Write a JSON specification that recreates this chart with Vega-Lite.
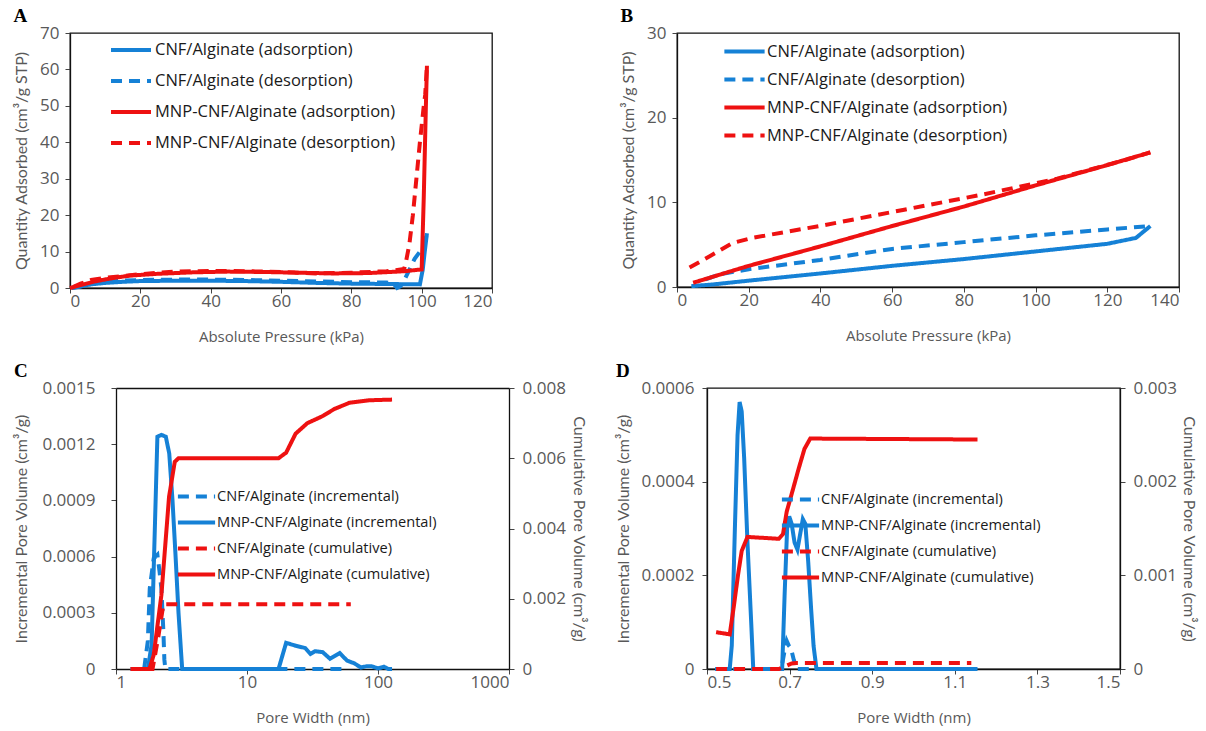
{
  "$schema": "https://vega.github.io/schema/vega-lite/v6.json",
  "background": "white",
  "padding": {"left": 12, "top": 6, "right": 5, "bottom": 0},
  "config": {
    "font": "Open Sans",
    "view": {"stroke": "#111", "strokeWidth": 1.3},
    "axis": {"grid": false, "domainColor": "#111", "domainWidth": 1.3, "ticks": true, "tickSize": 5, "tickColor": "#444", "tickWidth": 1, "labelColor": "#595959", "titleColor": "#595959", "labelFontSize": 17, "titleFontSize": 15, "titleFontWeight": "normal", "labelFont": "Open Sans", "titleFont": "Open Sans", "labelPadding": 0, "titlePadding": 20, "minExtent": 0},
    "axisY": {"titleFont": "Lato", "titleFontSize": 16, "labelPadding": 6, "titlePadding": 10},
    "title": {"font": "Liberation Serif", "fontWeight": "bold", "fontSize": 19, "anchor": "start", "frame": "bounds", "color": "#000", "offset": -2},
    "legend": {"orient": "none", "title": null, "symbolType": "stroke", "symbolStrokeWidth": 4, "labelFont": "Open Sans", "labelColor": "#1a1a1a", "padding": 0, "labelOffset": 2, "labelLimit": 0, "rowPadding": 0},
    "line": {"strokeWidth": 4, "strokeCap": "butt"}
  },
  "datasets": {
    "A": [
      {"x": 0.5, "y": 0, "s": "CNF/Alginate (adsorption)"},
      {"x": 3, "y": 0.4, "s": "CNF/Alginate (adsorption)"},
      {"x": 6, "y": 1.0, "s": "CNF/Alginate (adsorption)"},
      {"x": 10, "y": 1.4, "s": "CNF/Alginate (adsorption)"},
      {"x": 15, "y": 1.7, "s": "CNF/Alginate (adsorption)"},
      {"x": 20, "y": 1.9, "s": "CNF/Alginate (adsorption)"},
      {"x": 30, "y": 2.0, "s": "CNF/Alginate (adsorption)"},
      {"x": 40, "y": 2.0, "s": "CNF/Alginate (adsorption)"},
      {"x": 50, "y": 1.9, "s": "CNF/Alginate (adsorption)"},
      {"x": 60, "y": 1.7, "s": "CNF/Alginate (adsorption)"},
      {"x": 70, "y": 1.4, "s": "CNF/Alginate (adsorption)"},
      {"x": 80, "y": 1.2, "s": "CNF/Alginate (adsorption)"},
      {"x": 90, "y": 1.1, "s": "CNF/Alginate (adsorption)"},
      {"x": 99.5, "y": 1.0, "s": "CNF/Alginate (adsorption)"},
      {"x": 100.3, "y": 5, "s": "CNF/Alginate (adsorption)"},
      {"x": 101, "y": 11, "s": "CNF/Alginate (adsorption)"},
      {"x": 101.5, "y": 15, "s": "CNF/Alginate (adsorption)"},
      {"x": 101.5, "y": 15, "s": "CNF/Alginate (desorption)"},
      {"x": 100.8, "y": 12, "s": "CNF/Alginate (desorption)"},
      {"x": 99.5, "y": 10, "s": "CNF/Alginate (desorption)"},
      {"x": 98, "y": 8, "s": "CNF/Alginate (desorption)"},
      {"x": 97, "y": 6, "s": "CNF/Alginate (desorption)"},
      {"x": 96, "y": 4, "s": "CNF/Alginate (desorption)"},
      {"x": 95, "y": 2, "s": "CNF/Alginate (desorption)"},
      {"x": 94, "y": 0.5, "s": "CNF/Alginate (desorption)"},
      {"x": 93, "y": 0, "s": "CNF/Alginate (desorption)"},
      {"x": 92, "y": 1.2, "s": "CNF/Alginate (desorption)"},
      {"x": 90, "y": 1.5, "s": "CNF/Alginate (desorption)"},
      {"x": 80, "y": 1.6, "s": "CNF/Alginate (desorption)"},
      {"x": 70, "y": 1.8, "s": "CNF/Alginate (desorption)"},
      {"x": 60, "y": 2.0, "s": "CNF/Alginate (desorption)"},
      {"x": 50, "y": 2.2, "s": "CNF/Alginate (desorption)"},
      {"x": 40, "y": 2.3, "s": "CNF/Alginate (desorption)"},
      {"x": 30, "y": 2.3, "s": "CNF/Alginate (desorption)"},
      {"x": 20, "y": 2.2, "s": "CNF/Alginate (desorption)"},
      {"x": 10, "y": 1.8, "s": "CNF/Alginate (desorption)"},
      {"x": 6, "y": 1.2, "s": "CNF/Alginate (desorption)"},
      {"x": 3, "y": 0.5, "s": "CNF/Alginate (desorption)"},
      {"x": 0.5, "y": 0, "s": "CNF/Alginate (desorption)"},
      {"x": 0, "y": 0, "s": "MNP-CNF/Alginate (adsorption)"},
      {"x": 3, "y": 0.8, "s": "MNP-CNF/Alginate (adsorption)"},
      {"x": 7, "y": 1.8, "s": "MNP-CNF/Alginate (adsorption)"},
      {"x": 12, "y": 2.7, "s": "MNP-CNF/Alginate (adsorption)"},
      {"x": 17, "y": 3.4, "s": "MNP-CNF/Alginate (adsorption)"},
      {"x": 25, "y": 3.9, "s": "MNP-CNF/Alginate (adsorption)"},
      {"x": 35, "y": 4.3, "s": "MNP-CNF/Alginate (adsorption)"},
      {"x": 45, "y": 4.5, "s": "MNP-CNF/Alginate (adsorption)"},
      {"x": 55, "y": 4.4, "s": "MNP-CNF/Alginate (adsorption)"},
      {"x": 65, "y": 4.2, "s": "MNP-CNF/Alginate (adsorption)"},
      {"x": 75, "y": 4.0, "s": "MNP-CNF/Alginate (adsorption)"},
      {"x": 85, "y": 4.1, "s": "MNP-CNF/Alginate (adsorption)"},
      {"x": 95, "y": 4.6, "s": "MNP-CNF/Alginate (adsorption)"},
      {"x": 100, "y": 5.1, "s": "MNP-CNF/Alginate (adsorption)"},
      {"x": 100.6, "y": 25, "s": "MNP-CNF/Alginate (adsorption)"},
      {"x": 101.2, "y": 50, "s": "MNP-CNF/Alginate (adsorption)"},
      {"x": 101.5, "y": 61, "s": "MNP-CNF/Alginate (adsorption)"},
      {"x": 101.5, "y": 61, "s": "MNP-CNF/Alginate (desorption)"},
      {"x": 101, "y": 53, "s": "MNP-CNF/Alginate (desorption)"},
      {"x": 100.6, "y": 50, "s": "MNP-CNF/Alginate (desorption)"},
      {"x": 99.5, "y": 40, "s": "MNP-CNF/Alginate (desorption)"},
      {"x": 98.5, "y": 30, "s": "MNP-CNF/Alginate (desorption)"},
      {"x": 97.5, "y": 20, "s": "MNP-CNF/Alginate (desorption)"},
      {"x": 96.5, "y": 12, "s": "MNP-CNF/Alginate (desorption)"},
      {"x": 95.5, "y": 7, "s": "MNP-CNF/Alginate (desorption)"},
      {"x": 95, "y": 5.2, "s": "MNP-CNF/Alginate (desorption)"},
      {"x": 90, "y": 4.6, "s": "MNP-CNF/Alginate (desorption)"},
      {"x": 80, "y": 4.2, "s": "MNP-CNF/Alginate (desorption)"},
      {"x": 70, "y": 4.0, "s": "MNP-CNF/Alginate (desorption)"},
      {"x": 60, "y": 4.4, "s": "MNP-CNF/Alginate (desorption)"},
      {"x": 50, "y": 4.6, "s": "MNP-CNF/Alginate (desorption)"},
      {"x": 40, "y": 4.7, "s": "MNP-CNF/Alginate (desorption)"},
      {"x": 30, "y": 4.5, "s": "MNP-CNF/Alginate (desorption)"},
      {"x": 20, "y": 3.8, "s": "MNP-CNF/Alginate (desorption)"},
      {"x": 15, "y": 3.3, "s": "MNP-CNF/Alginate (desorption)"},
      {"x": 10, "y": 2.8, "s": "MNP-CNF/Alginate (desorption)"},
      {"x": 6, "y": 2.2, "s": "MNP-CNF/Alginate (desorption)"},
      {"x": 5, "y": 1.8, "s": "MNP-CNF/Alginate (desorption)"},
      {"x": 3, "y": 1.2, "s": "MNP-CNF/Alginate (desorption)"},
      {"x": 1, "y": 0.3, "s": "MNP-CNF/Alginate (desorption)"}
    ],
    "B": [
      {"x": 4, "y": 0.1, "s": "CNF/Alginate (adsorption)"},
      {"x": 10, "y": 0.3, "s": "CNF/Alginate (adsorption)"},
      {"x": 20, "y": 0.75, "s": "CNF/Alginate (adsorption)"},
      {"x": 40, "y": 1.6, "s": "CNF/Alginate (adsorption)"},
      {"x": 60, "y": 2.5, "s": "CNF/Alginate (adsorption)"},
      {"x": 80, "y": 3.3, "s": "CNF/Alginate (adsorption)"},
      {"x": 100, "y": 4.2, "s": "CNF/Alginate (adsorption)"},
      {"x": 120, "y": 5.1, "s": "CNF/Alginate (adsorption)"},
      {"x": 128, "y": 5.8, "s": "CNF/Alginate (adsorption)"},
      {"x": 132, "y": 7.2, "s": "CNF/Alginate (adsorption)"},
      {"x": 132, "y": 7.2, "s": "CNF/Alginate (desorption)"},
      {"x": 120, "y": 6.8, "s": "CNF/Alginate (desorption)"},
      {"x": 100, "y": 6.1, "s": "CNF/Alginate (desorption)"},
      {"x": 80, "y": 5.3, "s": "CNF/Alginate (desorption)"},
      {"x": 60, "y": 4.5, "s": "CNF/Alginate (desorption)"},
      {"x": 40, "y": 3.2, "s": "CNF/Alginate (desorption)"},
      {"x": 20, "y": 2.1, "s": "CNF/Alginate (desorption)"},
      {"x": 12, "y": 1.5, "s": "CNF/Alginate (desorption)"},
      {"x": 8, "y": 0.9, "s": "CNF/Alginate (desorption)"},
      {"x": 4.5, "y": 0.5, "s": "MNP-CNF/Alginate (adsorption)"},
      {"x": 20, "y": 2.5, "s": "MNP-CNF/Alginate (adsorption)"},
      {"x": 40, "y": 4.8, "s": "MNP-CNF/Alginate (adsorption)"},
      {"x": 60, "y": 7.2, "s": "MNP-CNF/Alginate (adsorption)"},
      {"x": 80, "y": 9.5, "s": "MNP-CNF/Alginate (adsorption)"},
      {"x": 100, "y": 12.0, "s": "MNP-CNF/Alginate (adsorption)"},
      {"x": 120, "y": 14.4, "s": "MNP-CNF/Alginate (adsorption)"},
      {"x": 132, "y": 15.9, "s": "MNP-CNF/Alginate (adsorption)"},
      {"x": 132, "y": 15.9, "s": "MNP-CNF/Alginate (desorption)"},
      {"x": 125, "y": 15.0, "s": "MNP-CNF/Alginate (desorption)"},
      {"x": 106, "y": 12.8, "s": "MNP-CNF/Alginate (desorption)"},
      {"x": 85, "y": 10.9, "s": "MNP-CNF/Alginate (desorption)"},
      {"x": 63, "y": 9.1, "s": "MNP-CNF/Alginate (desorption)"},
      {"x": 41, "y": 7.3, "s": "MNP-CNF/Alginate (desorption)"},
      {"x": 21, "y": 5.8, "s": "MNP-CNF/Alginate (desorption)"},
      {"x": 15.5, "y": 5.2, "s": "MNP-CNF/Alginate (desorption)"},
      {"x": 9, "y": 3.6, "s": "MNP-CNF/Alginate (desorption)"},
      {"x": 3.5, "y": 2.3, "s": "MNP-CNF/Alginate (desorption)"}
    ],
    "Cinc": [
      {"x": 1.64, "y": 0, "s": "CNF/Alginate (incremental)"},
      {"x": 1.75, "y": 0.00015, "s": "CNF/Alginate (incremental)"},
      {"x": 1.81, "y": 0.00043, "s": "CNF/Alginate (incremental)"},
      {"x": 1.94, "y": 0.00059, "s": "CNF/Alginate (incremental)"},
      {"x": 2.07, "y": 0.00061, "s": "CNF/Alginate (incremental)"},
      {"x": 2.15, "y": 0.00052, "s": "CNF/Alginate (incremental)"},
      {"x": 2.22, "y": 0.00043, "s": "CNF/Alginate (incremental)"},
      {"x": 2.3, "y": 0.0002, "s": "CNF/Alginate (incremental)"},
      {"x": 2.34, "y": 0.00005, "s": "CNF/Alginate (incremental)"},
      {"x": 2.38, "y": 0, "s": "CNF/Alginate (incremental)"},
      {"x": 5, "y": 0, "s": "CNF/Alginate (incremental)"},
      {"x": 20, "y": 0, "s": "CNF/Alginate (incremental)"},
      {"x": 53, "y": 0, "s": "CNF/Alginate (incremental)"},
      {"x": 1.29, "y": 0, "s": "MNP-CNF/Alginate (incremental)"},
      {"x": 1.75, "y": 0, "s": "MNP-CNF/Alginate (incremental)"},
      {"x": 1.87, "y": 0.00013, "s": "MNP-CNF/Alginate (incremental)"},
      {"x": 1.97, "y": 0.0007, "s": "MNP-CNF/Alginate (incremental)"},
      {"x": 2.07, "y": 0.00124, "s": "MNP-CNF/Alginate (incremental)"},
      {"x": 2.22, "y": 0.00125, "s": "MNP-CNF/Alginate (incremental)"},
      {"x": 2.4, "y": 0.00124, "s": "MNP-CNF/Alginate (incremental)"},
      {"x": 2.55, "y": 0.00115, "s": "MNP-CNF/Alginate (incremental)"},
      {"x": 2.7, "y": 0.0009, "s": "MNP-CNF/Alginate (incremental)"},
      {"x": 2.85, "y": 0.0006, "s": "MNP-CNF/Alginate (incremental)"},
      {"x": 3.0, "y": 0.0003, "s": "MNP-CNF/Alginate (incremental)"},
      {"x": 3.2, "y": 0, "s": "MNP-CNF/Alginate (incremental)"},
      {"x": 17.4, "y": 0, "s": "MNP-CNF/Alginate (incremental)"},
      {"x": 19.9, "y": 0.00014, "s": "MNP-CNF/Alginate (incremental)"},
      {"x": 23.5, "y": 0.000124, "s": "MNP-CNF/Alginate (incremental)"},
      {"x": 27.8, "y": 0.000112, "s": "MNP-CNF/Alginate (incremental)"},
      {"x": 30.5, "y": 0.00008, "s": "MNP-CNF/Alginate (incremental)"},
      {"x": 33, "y": 0.000095, "s": "MNP-CNF/Alginate (incremental)"},
      {"x": 37.8, "y": 0.00009, "s": "MNP-CNF/Alginate (incremental)"},
      {"x": 43, "y": 0.000055, "s": "MNP-CNF/Alginate (incremental)"},
      {"x": 51, "y": 0.000085, "s": "MNP-CNF/Alginate (incremental)"},
      {"x": 58, "y": 0.000045, "s": "MNP-CNF/Alginate (incremental)"},
      {"x": 66, "y": 0.00003, "s": "MNP-CNF/Alginate (incremental)"},
      {"x": 74, "y": 0.000008, "s": "MNP-CNF/Alginate (incremental)"},
      {"x": 82, "y": 0.000015, "s": "MNP-CNF/Alginate (incremental)"},
      {"x": 90, "y": 0.000014, "s": "MNP-CNF/Alginate (incremental)"},
      {"x": 100, "y": 0.000003, "s": "MNP-CNF/Alginate (incremental)"},
      {"x": 111, "y": 0.000012, "s": "MNP-CNF/Alginate (incremental)"},
      {"x": 120, "y": 0, "s": "MNP-CNF/Alginate (incremental)"},
      {"x": 128, "y": 0, "s": "MNP-CNF/Alginate (incremental)"}
    ],
    "Ccum": [
      {"x": 1.3, "y": 0, "s": "CNF/Alginate (cumulative)"},
      {"x": 1.9, "y": 0, "s": "CNF/Alginate (cumulative)"},
      {"x": 2.1, "y": 0.0009, "s": "CNF/Alginate (cumulative)"},
      {"x": 2.3, "y": 0.00184, "s": "CNF/Alginate (cumulative)"},
      {"x": 62, "y": 0.00184, "s": "CNF/Alginate (cumulative)"},
      {"x": 1.29, "y": 0, "s": "MNP-CNF/Alginate (cumulative)"},
      {"x": 1.8, "y": 0, "s": "MNP-CNF/Alginate (cumulative)"},
      {"x": 1.94, "y": 0.0004, "s": "MNP-CNF/Alginate (cumulative)"},
      {"x": 2.22, "y": 0.0021, "s": "MNP-CNF/Alginate (cumulative)"},
      {"x": 2.54, "y": 0.0049, "s": "MNP-CNF/Alginate (cumulative)"},
      {"x": 2.81, "y": 0.0059, "s": "MNP-CNF/Alginate (cumulative)"},
      {"x": 3.0, "y": 0.006, "s": "MNP-CNF/Alginate (cumulative)"},
      {"x": 17.4, "y": 0.006, "s": "MNP-CNF/Alginate (cumulative)"},
      {"x": 19.9, "y": 0.00616, "s": "MNP-CNF/Alginate (cumulative)"},
      {"x": 23.5, "y": 0.0067, "s": "MNP-CNF/Alginate (cumulative)"},
      {"x": 28.9, "y": 0.007, "s": "MNP-CNF/Alginate (cumulative)"},
      {"x": 37.8, "y": 0.0072, "s": "MNP-CNF/Alginate (cumulative)"},
      {"x": 46.3, "y": 0.0074, "s": "MNP-CNF/Alginate (cumulative)"},
      {"x": 60.6, "y": 0.00758, "s": "MNP-CNF/Alginate (cumulative)"},
      {"x": 85, "y": 0.00765, "s": "MNP-CNF/Alginate (cumulative)"},
      {"x": 128, "y": 0.00767, "s": "MNP-CNF/Alginate (cumulative)"}
    ],
    "Dinc": [
      {"x": 0.52, "y": 0, "s": "CNF/Alginate (incremental)"},
      {"x": 0.68, "y": 0, "s": "CNF/Alginate (incremental)"},
      {"x": 0.688, "y": 0.00004, "s": "CNF/Alginate (incremental)"},
      {"x": 0.693, "y": 0.00006, "s": "CNF/Alginate (incremental)"},
      {"x": 0.698, "y": 0.00005, "s": "CNF/Alginate (incremental)"},
      {"x": 0.703, "y": 0.000045, "s": "CNF/Alginate (incremental)"},
      {"x": 0.71, "y": 0.00002, "s": "CNF/Alginate (incremental)"},
      {"x": 0.717, "y": 0, "s": "CNF/Alginate (incremental)"},
      {"x": 1.155, "y": 0, "s": "CNF/Alginate (incremental)"},
      {"x": 0.52, "y": 0, "s": "MNP-CNF/Alginate (incremental)"},
      {"x": 0.555, "y": 0, "s": "MNP-CNF/Alginate (incremental)"},
      {"x": 0.56, "y": 0.00005, "s": "MNP-CNF/Alginate (incremental)"},
      {"x": 0.5675, "y": 0.0003, "s": "MNP-CNF/Alginate (incremental)"},
      {"x": 0.574, "y": 0.0005, "s": "MNP-CNF/Alginate (incremental)"},
      {"x": 0.579, "y": 0.00057, "s": "MNP-CNF/Alginate (incremental)"},
      {"x": 0.584, "y": 0.00055, "s": "MNP-CNF/Alginate (incremental)"},
      {"x": 0.59, "y": 0.00045, "s": "MNP-CNF/Alginate (incremental)"},
      {"x": 0.598, "y": 0.00027, "s": "MNP-CNF/Alginate (incremental)"},
      {"x": 0.6075, "y": 0.00009, "s": "MNP-CNF/Alginate (incremental)"},
      {"x": 0.612, "y": 0, "s": "MNP-CNF/Alginate (incremental)"},
      {"x": 0.682, "y": 0, "s": "MNP-CNF/Alginate (incremental)"},
      {"x": 0.688, "y": 0.00016, "s": "MNP-CNF/Alginate (incremental)"},
      {"x": 0.694, "y": 0.0003, "s": "MNP-CNF/Alginate (incremental)"},
      {"x": 0.699, "y": 0.000326, "s": "MNP-CNF/Alginate (incremental)"},
      {"x": 0.705, "y": 0.00031, "s": "MNP-CNF/Alginate (incremental)"},
      {"x": 0.712, "y": 0.00027, "s": "MNP-CNF/Alginate (incremental)"},
      {"x": 0.719, "y": 0.000255, "s": "MNP-CNF/Alginate (incremental)"},
      {"x": 0.726, "y": 0.00029, "s": "MNP-CNF/Alginate (incremental)"},
      {"x": 0.732, "y": 0.00032, "s": "MNP-CNF/Alginate (incremental)"},
      {"x": 0.738, "y": 0.00031, "s": "MNP-CNF/Alginate (incremental)"},
      {"x": 0.745, "y": 0.00023, "s": "MNP-CNF/Alginate (incremental)"},
      {"x": 0.752, "y": 0.00013, "s": "MNP-CNF/Alginate (incremental)"},
      {"x": 0.758, "y": 0.00005, "s": "MNP-CNF/Alginate (incremental)"},
      {"x": 0.765, "y": 0, "s": "MNP-CNF/Alginate (incremental)"},
      {"x": 1.155, "y": 0, "s": "MNP-CNF/Alginate (incremental)"}
    ],
    "Dcum": [
      {"x": 0.522, "y": 0, "s": "CNF/Alginate (cumulative)"},
      {"x": 0.674, "y": 0, "s": "CNF/Alginate (cumulative)"},
      {"x": 0.69, "y": 0.00003, "s": "CNF/Alginate (cumulative)"},
      {"x": 0.705, "y": 0.00006, "s": "CNF/Alginate (cumulative)"},
      {"x": 0.717, "y": 0.000063, "s": "CNF/Alginate (cumulative)"},
      {"x": 1.14, "y": 0.000063, "s": "CNF/Alginate (cumulative)"},
      {"x": 0.522, "y": 0.000393, "s": "MNP-CNF/Alginate (cumulative)"},
      {"x": 0.555, "y": 0.00037, "s": "MNP-CNF/Alginate (cumulative)"},
      {"x": 0.565, "y": 0.00067, "s": "MNP-CNF/Alginate (cumulative)"},
      {"x": 0.575, "y": 0.001, "s": "MNP-CNF/Alginate (cumulative)"},
      {"x": 0.584, "y": 0.00126, "s": "MNP-CNF/Alginate (cumulative)"},
      {"x": 0.598, "y": 0.00141, "s": "MNP-CNF/Alginate (cumulative)"},
      {"x": 0.674, "y": 0.00139, "s": "MNP-CNF/Alginate (cumulative)"},
      {"x": 0.684, "y": 0.00144, "s": "MNP-CNF/Alginate (cumulative)"},
      {"x": 0.693, "y": 0.00168, "s": "MNP-CNF/Alginate (cumulative)"},
      {"x": 0.707, "y": 0.0019, "s": "MNP-CNF/Alginate (cumulative)"},
      {"x": 0.722, "y": 0.00214, "s": "MNP-CNF/Alginate (cumulative)"},
      {"x": 0.736, "y": 0.00235, "s": "MNP-CNF/Alginate (cumulative)"},
      {"x": 0.75, "y": 0.00246, "s": "MNP-CNF/Alginate (cumulative)"},
      {"x": 0.76, "y": 0.00246, "s": "MNP-CNF/Alginate (cumulative)"},
      {"x": 1.155, "y": 0.00245, "s": "MNP-CNF/Alginate (cumulative)"}
    ]
  },
  "columns": 1,
  "align": "none",
  "spacing": 16,
  "resolve": {"scale": {"color": "independent", "strokeDash": "independent"}, "legend": {"color": "independent", "strokeDash": "independent"}},
  "concat": [
    {
      "spacing": 125,
      "resolve": {"scale": {"color": "independent", "strokeDash": "independent"}, "legend": {"color": "independent", "strokeDash": "independent"}},
      "hconcat": [
        {
          "title": {"text": "A"},
          "width": 422, "height": 255,
          "data": {"name": "A"},
          "mark": {"type": "line"},
          "encoding": {
            "x": {"field": "x", "type": "quantitative", "scale": {"domain": [0, 120], "nice": false}, "axis": {"values": [0, 20, 40, 60, 80, 100, 120], "title": "Absolute Pressure (kPa)"}},
            "y": {"field": "y", "type": "quantitative", "scale": {"domain": [0, 70], "nice": false}, "axis": {"values": [0, 10, 20, 30, 40, 50, 60, 70], "title": "Quantity Adsorbed (cm³/g STP)"}},
            "color": {"field": "s", "type": "nominal", "scale": {"domain": ["CNF/Alginate (adsorption)", "CNF/Alginate (desorption)", "MNP-CNF/Alginate (adsorption)", "MNP-CNF/Alginate (desorption)"], "range": ["#1581d6", "#1581d6", "#ee1111", "#ee1111"]}, "legend": {"legendX": 39, "legendY": -5, "symbolSize": 1600, "labelFontSize": 16.5}},
            "strokeDash": {"field": "s", "type": "nominal", "scale": {"domain": ["CNF/Alginate (adsorption)", "CNF/Alginate (desorption)", "MNP-CNF/Alginate (adsorption)", "MNP-CNF/Alginate (desorption)"], "range": [[1, 0], [11, 7], [1, 0], [11, 7]]}, "legend": {"legendX": 39, "legendY": -5, "symbolSize": 1600, "labelFontSize": 16.5}}
          }
        },
        {
          "title": {"text": "B"},
          "width": 502, "height": 254,
          "data": {"name": "B"},
          "mark": {"type": "line"},
          "encoding": {
            "x": {"field": "x", "type": "quantitative", "scale": {"domain": [0, 140], "nice": false}, "axis": {"values": [0, 20, 40, 60, 80, 100, 120, 140], "title": "Absolute Pressure (kPa)"}},
            "y": {"field": "y", "type": "quantitative", "scale": {"domain": [0, 30], "nice": false}, "axis": {"values": [0, 10, 20, 30], "title": "Quantity Adsorbed (cm³/g STP)"}},
            "color": {"field": "s", "type": "nominal", "scale": {"domain": ["CNF/Alginate (adsorption)", "CNF/Alginate (desorption)", "MNP-CNF/Alginate (adsorption)", "MNP-CNF/Alginate (desorption)"], "range": ["#1581d6", "#1581d6", "#ee1111", "#ee1111"]}, "legend": {"legendX": 48, "legendY": -1, "symbolType": "M-1.15,0H1.15", "symbolSize": 1225, "labelOffset": 3, "labelFontSize": 16.5}},
            "strokeDash": {"field": "s", "type": "nominal", "scale": {"domain": ["CNF/Alginate (adsorption)", "CNF/Alginate (desorption)", "MNP-CNF/Alginate (adsorption)", "MNP-CNF/Alginate (desorption)"], "range": [[1, 0], [11, 7], [1, 0], [11, 7]]}, "legend": {"legendX": 48, "legendY": -1, "symbolType": "M-1.15,0H1.15", "symbolSize": 1225, "labelOffset": 3, "labelFontSize": 16.5}}
          }
        }
      ]
    },
    {
      "spacing": 28,
      "resolve": {"scale": {"color": "independent", "strokeDash": "independent"}, "legend": {"color": "independent", "strokeDash": "independent"}},
      "hconcat": [
        {
          "title": {"text": "C"},
          "width": 439, "height": 281,
          "view": {"stroke": null},
          "resolve": {"scale": {"y": "independent"}, "axis": {"x": "independent"}},
          "layer": [
            {
              "data": {"name": "Cinc"},
              "mark": {"type": "line"},
              "encoding": {
                "x": {"field": "x", "type": "quantitative", "scale": {"type": "log", "domain": [1, 1000], "range": [46, 439], "nice": false}, "axis": {"orient": "bottom", "values": [1, 10, 100, 1000], "format": "d", "title": "Pore Width (nm)"}},
                "y": {"field": "y", "type": "quantitative", "scale": {"domain": [0, 0.0015], "nice": false}, "axis": {"offset": -46, "values": [0, 0.0003, 0.0006, 0.0009, 0.0012, 0.0015], "format": ".4~f", "title": "Incremental Pore Volume (cm³/g)", "labelPadding": 16, "titlePadding": 12}},
                "color": {"field": "s", "type": "nominal", "scale": {"domain": ["CNF/Alginate (incremental)", "MNP-CNF/Alginate (incremental)", "CNF/Alginate (cumulative)", "MNP-CNF/Alginate (cumulative)"], "range": ["#1581d6", "#1581d6", "#ee1111", "#ee1111"]}, "legend": {"legendX": 109, "legendY": 91, "symbolType": "M-1.2,0H1.2", "symbolSize": 961, "labelOffset": 3, "labelFontSize": 14.6}},
                "strokeDash": {"field": "s", "type": "nominal", "scale": {"domain": ["CNF/Alginate (incremental)", "MNP-CNF/Alginate (incremental)", "CNF/Alginate (cumulative)", "MNP-CNF/Alginate (cumulative)"], "range": [[11, 7], [1, 0], [11, 7], [1, 0]]}, "legend": {"legendX": 109, "legendY": 91, "symbolType": "M-1.2,0H1.2", "symbolSize": 961, "labelOffset": 3, "labelFontSize": 14.6}}
              }
            },
            {
              "data": {"name": "Ccum"},
              "mark": {"type": "line"},
              "encoding": {
                "x": {"field": "x", "type": "quantitative", "scale": {"type": "log", "domain": [1, 1000], "range": [46, 439], "nice": false}, "axis": {"orient": "top", "labels": false, "ticks": false, "title": null, "domain": true}},
                "y": {"field": "y", "type": "quantitative", "scale": {"domain": [0, 0.008], "nice": false}, "axis": {"orient": "right", "values": [0, 0.002, 0.004, 0.006, 0.008], "format": ".3~f", "title": "Cumulative Pore Volume (cm³/g)", "labelPadding": 8, "titlePadding": 5}},
                "color": {"field": "s", "type": "nominal", "scale": {"domain": ["CNF/Alginate (incremental)", "MNP-CNF/Alginate (incremental)", "CNF/Alginate (cumulative)", "MNP-CNF/Alginate (cumulative)"], "range": ["#1581d6", "#1581d6", "#ee1111", "#ee1111"]}, "legend": {"legendX": 109, "legendY": 91, "symbolType": "M-1.2,0H1.2", "symbolSize": 961, "labelOffset": 3, "labelFontSize": 14.6}},
                "strokeDash": {"field": "s", "type": "nominal", "scale": {"domain": ["CNF/Alginate (incremental)", "MNP-CNF/Alginate (incremental)", "CNF/Alginate (cumulative)", "MNP-CNF/Alginate (cumulative)"], "range": [[11, 7], [1, 0], [11, 7], [1, 0]]}, "legend": {"legendX": 109, "legendY": 91, "symbolType": "M-1.2,0H1.2", "symbolSize": 961, "labelOffset": 3, "labelFontSize": 14.6}}
              }
            }
          ]
        },
        {
          "title": {"text": "D"},
          "width": 413, "height": 281,
          "resolve": {"scale": {"y": "independent"}},
          "layer": [
            {
              "data": {"name": "Dinc"},
              "mark": {"type": "line"},
              "encoding": {
                "x": {"field": "x", "type": "quantitative", "scale": {"domain": [0.5, 1.5], "nice": false}, "axis": {"values": [0.5, 0.7, 0.9, 1.1, 1.3, 1.5], "format": ".1f", "title": "Pore Width (nm)"}},
                "y": {"field": "y", "type": "quantitative", "scale": {"domain": [0, 0.0006], "nice": false}, "axis": {"values": [0, 0.0002, 0.0004, 0.0006], "format": ".4~f", "title": "Incremental Pore Volume (cm³/g)", "labelPadding": 8, "titlePadding": 9}},
                "color": {"field": "s", "type": "nominal", "scale": {"domain": ["CNF/Alginate (incremental)", "MNP-CNF/Alginate (incremental)", "CNF/Alginate (cumulative)", "MNP-CNF/Alginate (cumulative)"], "range": ["#1581d6", "#1581d6", "#ee1111", "#ee1111"]}, "legend": {"legendX": 76, "legendY": 94, "symbolType": "M-1.2,0H1.2", "symbolSize": 961, "labelOffset": 3, "labelFontSize": 14.6}},
                "strokeDash": {"field": "s", "type": "nominal", "scale": {"domain": ["CNF/Alginate (incremental)", "MNP-CNF/Alginate (incremental)", "CNF/Alginate (cumulative)", "MNP-CNF/Alginate (cumulative)"], "range": [[11, 7], [1, 0], [11, 7], [1, 0]]}, "legend": {"legendX": 76, "legendY": 94, "symbolType": "M-1.2,0H1.2", "symbolSize": 961, "labelOffset": 3, "labelFontSize": 14.6}}
              }
            },
            {
              "data": {"name": "Dcum"},
              "mark": {"type": "line"},
              "encoding": {
                "x": {"field": "x", "type": "quantitative", "scale": {"domain": [0.5, 1.5], "nice": false}, "axis": {"values": [0.5, 0.7, 0.9, 1.1, 1.3, 1.5], "format": ".1f", "title": "Pore Width (nm)"}},
                "y": {"field": "y", "type": "quantitative", "scale": {"domain": [0, 0.003], "nice": false}, "axis": {"orient": "right", "values": [0, 0.001, 0.002, 0.003], "format": ".3~f", "title": "Cumulative Pore Volume (cm³/g)", "labelPadding": 8, "titlePadding": 4}},
                "color": {"field": "s", "type": "nominal", "scale": {"domain": ["CNF/Alginate (incremental)", "MNP-CNF/Alginate (incremental)", "CNF/Alginate (cumulative)", "MNP-CNF/Alginate (cumulative)"], "range": ["#1581d6", "#1581d6", "#ee1111", "#ee1111"]}, "legend": {"legendX": 76, "legendY": 94, "symbolType": "M-1.2,0H1.2", "symbolSize": 961, "labelOffset": 3, "labelFontSize": 14.6}},
                "strokeDash": {"field": "s", "type": "nominal", "scale": {"domain": ["CNF/Alginate (incremental)", "MNP-CNF/Alginate (incremental)", "CNF/Alginate (cumulative)", "MNP-CNF/Alginate (cumulative)"], "range": [[11, 7], [1, 0], [11, 7], [1, 0]]}, "legend": {"legendX": 76, "legendY": 94, "symbolType": "M-1.2,0H1.2", "symbolSize": 961, "labelOffset": 3, "labelFontSize": 14.6}}
              }
            }
          ]
        }
      ]
    }
  ]
}
